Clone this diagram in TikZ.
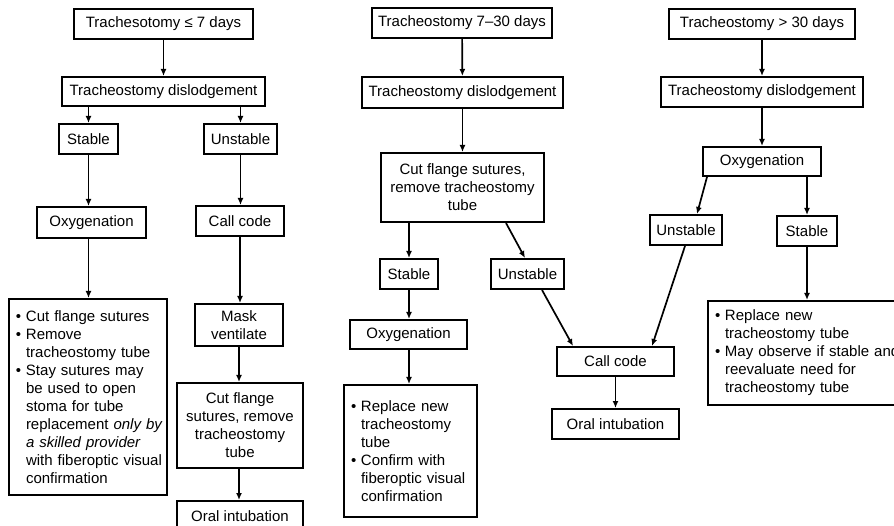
\documentclass[tikz,border=0pt]{standalone}
\usepackage{fontspec}
\setmainfont{Liberation Sans}
\usetikzlibrary{arrows.meta}
\tikzset{
  box/.style={draw, line width=2pt, align=center, inner sep=0pt, minimum height=30pt, font=\fontsize{15}{18}\selectfont},
  listbox/.style={draw, line width=2pt, align=left, inner xsep=7pt, inner ysep=0pt, font=\fontsize{15}{18}\selectfont},
  line/.style={-{Latex[length=7pt,width=6pt]}, line width=1.7pt}
}
\newcommand{\itm}[1]{\mbox{\makebox[10pt][l]{•}#1}}
\newcommand{\cnt}[1]{\mbox{\hspace*{10pt}#1}}

\begin{document}
\begin{tikzpicture}[x=1pt, y=-1pt]
  \useasboundingbox (0,0) rectangle (894,526);
  \node[box, minimum width=179pt] (a0) at (163.5,24) {Trachesotomy ≤ 7 days};
  \node[box, minimum width=203pt, minimum height=29pt] (a1) at (163.5,91.5) {Tracheostomy dislodgement};
  \node[box, minimum width=59pt] (aS) at (88.5,139) {Stable};
  \node[box, minimum width=73pt] (aU) at (240.5,139) {Unstable};
  \node[box, minimum width=109pt, minimum height=31pt] (aOx) at (91.5,222.5) {Oxygenation};
  \node[box, minimum width=88pt] (aCall) at (240,221) {Call code};
  \node[listbox, text width=144pt, minimum height=196pt] (aList) at (88,397) {\itm{Cut flange sutures}\\\itm{Remove}\\\cnt{tracheostomy tube}\\\itm{Stay sutures may}\\\cnt{be used to open}\\\cnt{stoma for tube}\\\cnt{replacement \emph{only by}}\\\cnt{\emph{a skilled provider}}\\\cnt{with fiberoptic visual}\\\cnt{confirmation}};
  \node[box, minimum width=88pt, minimum height=42pt] (aMask) at (239,325) {Mask\\ventilate};
  \node[box, minimum width=126pt, minimum height=85pt] (aCut) at (240,425.5) {Cut flange\\sutures, remove\\tracheostomy\\tube};
  \node[box, minimum width=126pt] (aOral) at (240,516) {Oral intubation};

  \node[box, minimum width=180pt] (b0) at (462,23) {Tracheostomy 7–30 days};
  \node[box, minimum width=201pt, minimum height=31pt] (b1) at (462.5,92.5) {Tracheostomy dislodgement};
  \node[box, minimum width=163pt, minimum height=69pt] (bCut) at (462.5,187.5) {Cut flange sutures,\\remove tracheostomy\\tube};
  \node[box, minimum width=58pt] (bS) at (409,274) {Stable};
  \node[box, minimum width=73pt] (bU) at (527.5,274) {Unstable};
  \node[box, minimum width=117pt, minimum height=29pt] (bOx) at (408.5,334.5) {Oxygenation};
  \node[listbox, text width=119pt, minimum height=132pt] (bList) at (410.5,451) {\itm{Replace new}\\\cnt{tracheostomy}\\\cnt{tube}\\\itm{Confirm with}\\\cnt{fiberoptic visual}\\\cnt{confirmation}};
  \node[box, minimum width=117pt, minimum height=29pt] (bCall) at (615.5,361.5) {Call code};
  \node[box, minimum width=127pt] (bOral) at (615.5,424) {Oral intubation};

  \node[box, minimum width=186pt] (c0) at (762,24) {Tracheostomy > 30 days};
  \node[box, minimum width=202pt] (c1) at (762,92) {Tracheostomy dislodgement};
  \node[box, minimum width=118pt, minimum height=29pt] (cOx) at (762,161.5) {Oxygenation};
  \node[box, minimum width=72pt] (cU) at (686,230) {Unstable};
  \node[box, minimum width=60pt] (cS) at (807,231) {Stable};
  \node[listbox, text width=186pt, minimum height=104pt] (cList) at (808,353) {\itm{Replace new}\\\cnt{tracheostomy tube}\\\itm{May observe if stable and}\\\cnt{reevaluate need for}\\\cnt{tracheostomy tube}};

  \draw[line] (a0) -- (a1);
  \draw[line] (a1.south -| aS) -- (aS);
  \draw[line] (a1.south -| aU) -- (aU);
  \draw[line] (aS) -- (aS |- aOx.north);
  \draw[line] (aS |- aOx.south) -- (aS |- aList.north);
  \draw[line] (aU) -- (aU |- aCall.north);
  \draw[line] (aCall) -- (aCall |- aMask.north);
  \draw[line] (aMask) -- (aMask |- aCut.north);
  \draw[line] (aCut.south -| aMask) -- (aMask |- aOral.north);

  \draw[line] (b0) -- (b1);
  \draw[line] (b1) -- (bCut);
  \draw[line] (bCut.south -| bS) -- (bS);
  \draw[line] ([xshift=43.5pt]bCut.south) -- ([xshift=-2.5pt]bU.north);
  \draw[line] (bS) -- (bS |- bOx.north);
  \draw[line] (bS |- bOx.south) -- (bS |- bList.north);
  \draw[line] ([xshift=14.5pt]bU.south) -- ([xshift=-42.5pt]bCall.north);
  \draw[line] (bCall) -- (bOral);

  \draw[line] (c0) -- (c1);
  \draw[line] (c1) -- (cOx);
  \draw[line] ([xshift=-55pt]cOx.south) -- ([xshift=11pt]cU.north);
  \draw[line] (cOx.south -| cS) -- (cS);
  \draw[line] ([xshift=-1pt]cU.south) -- ([xshift=36.5pt]bCall.north);
  \draw[line] (cS) -- (cS |- cList.north);
\end{tikzpicture}
\end{document}
